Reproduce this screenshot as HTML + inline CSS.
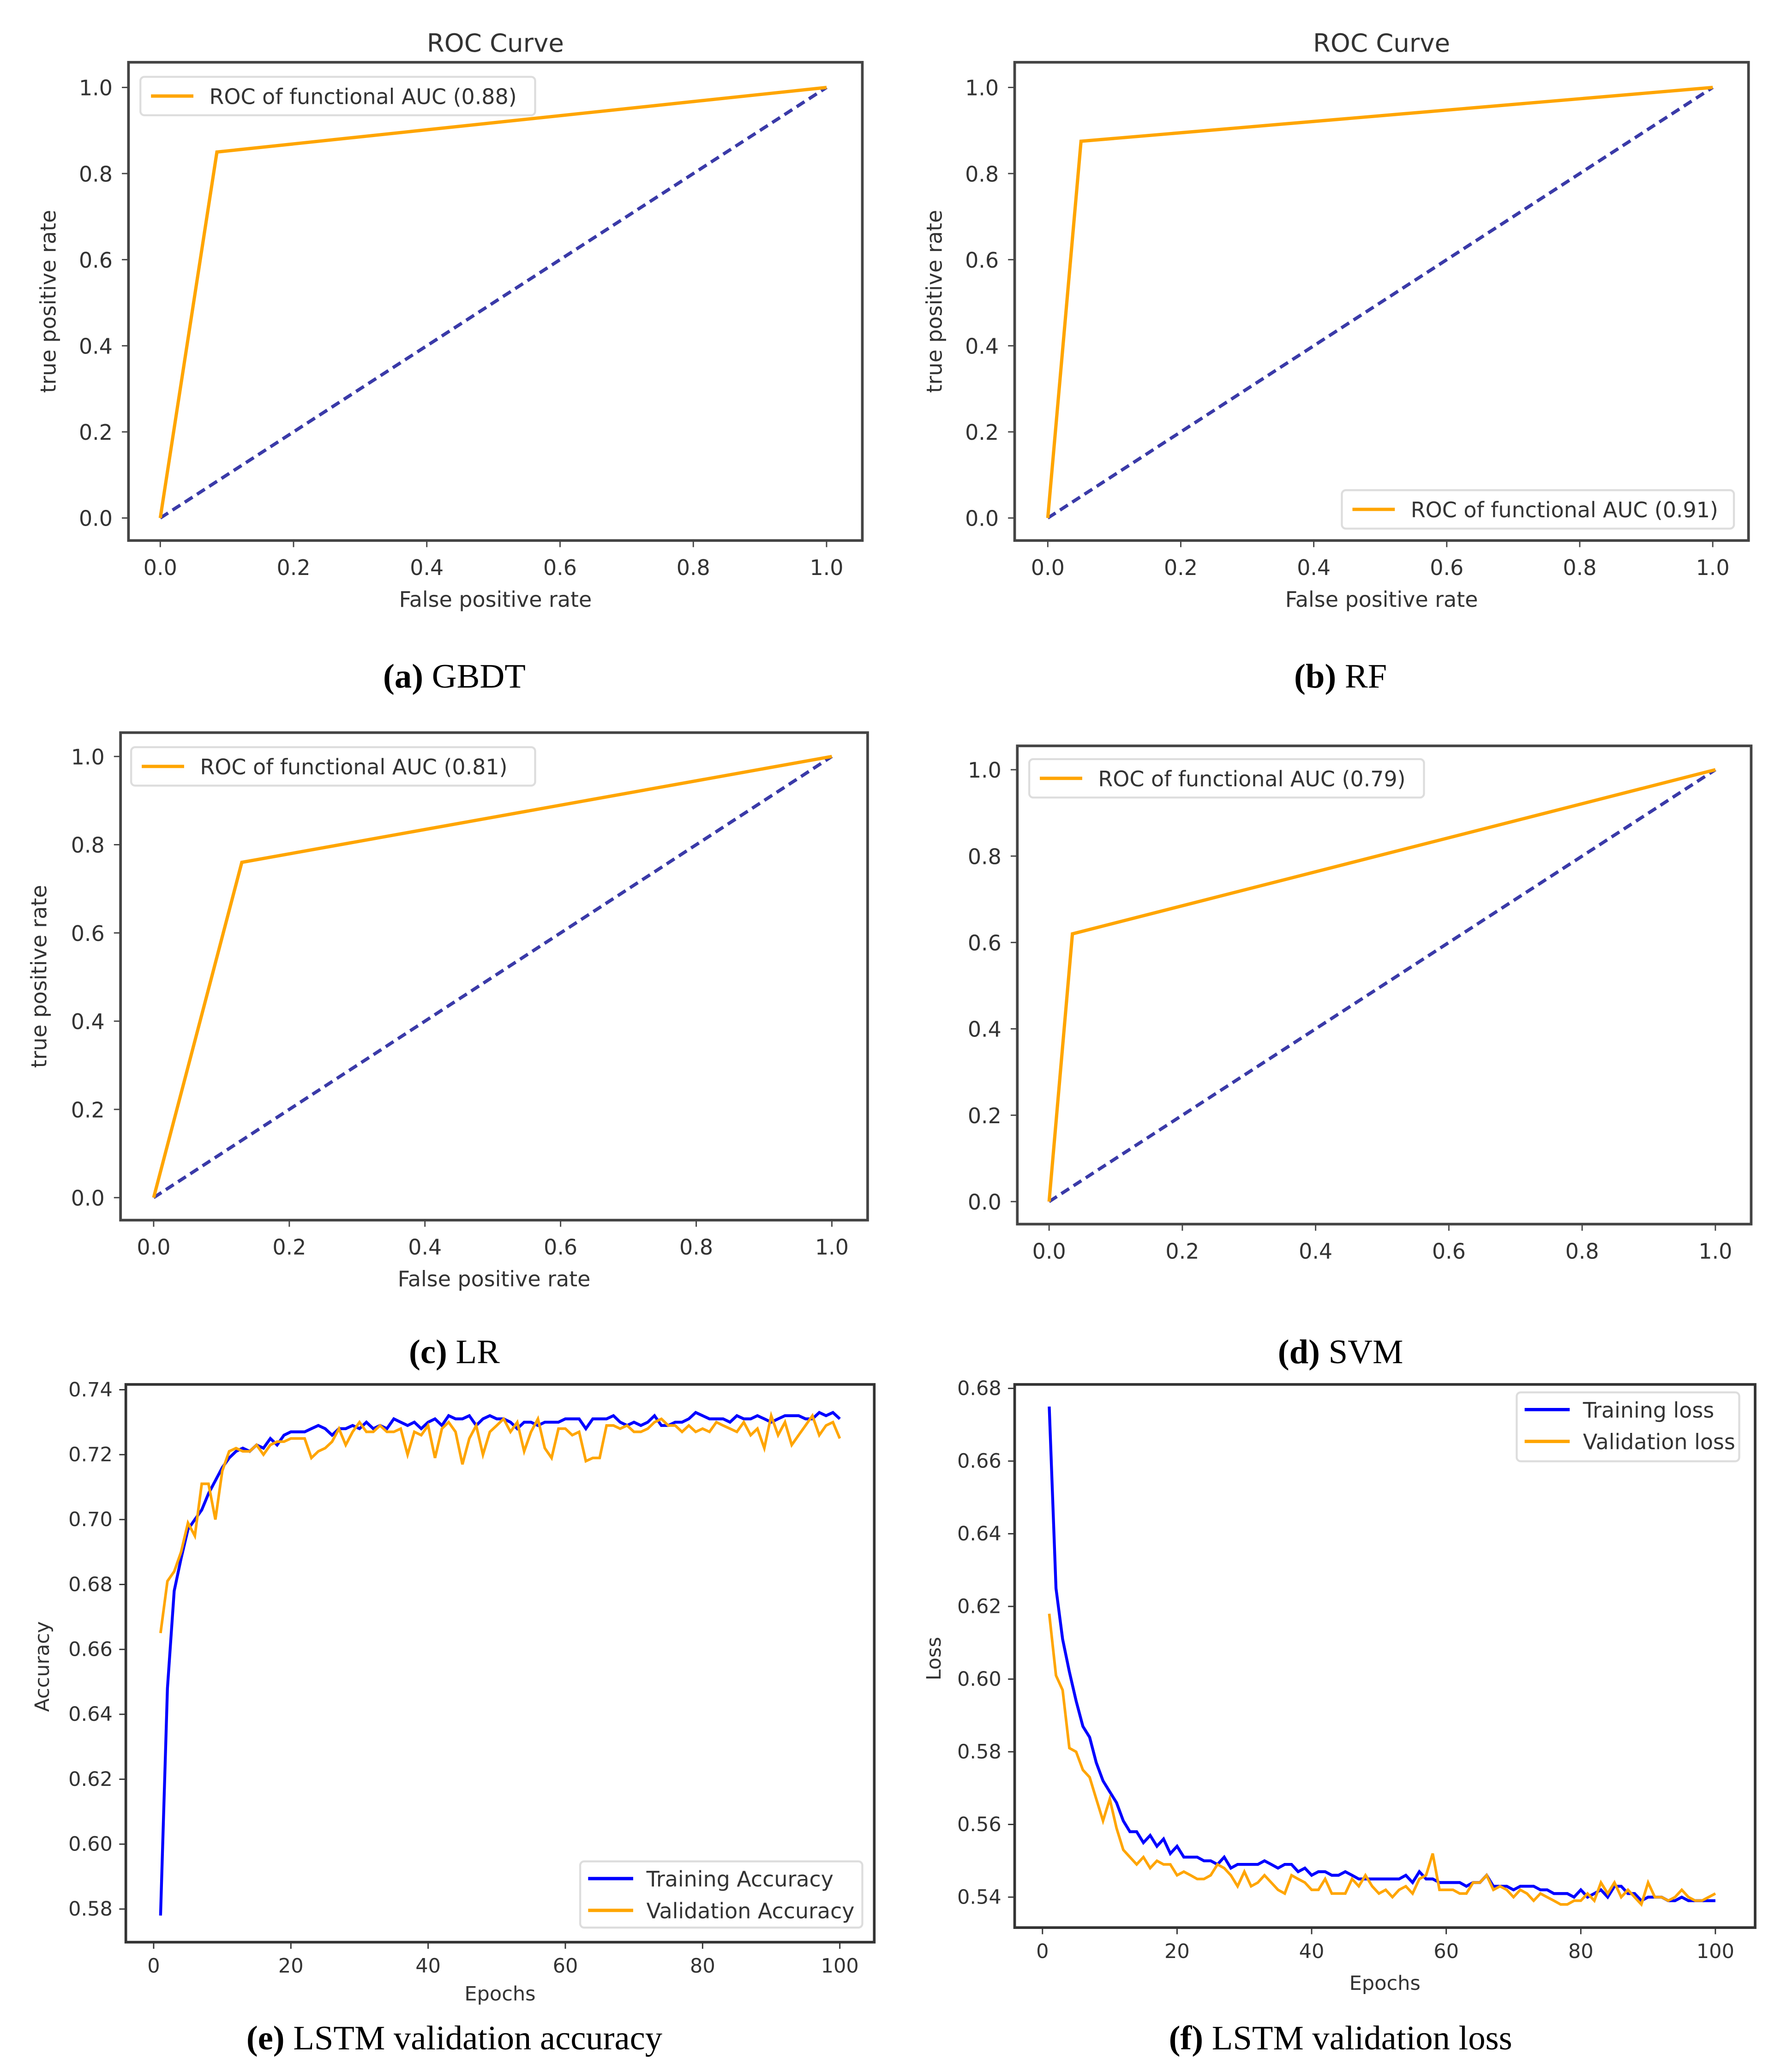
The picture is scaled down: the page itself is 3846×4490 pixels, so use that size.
<!DOCTYPE html>
<html><head><meta charset="utf-8">
<style>
html,body{margin:0;padding:0;background:#fff;}
svg{display:block;}
text{font-family:"DejaVu Sans","Liberation Sans",sans-serif;fill:#333;}
.cap{font-family:"Liberation Serif",serif;fill:#000;font-size:26px;}
</style></head>
<body>
<svg id="fig" xmlns="http://www.w3.org/2000/svg" width="3846" height="4490" viewBox="0 0 1340 1564" preserveAspectRatio="none">
</svg>
<script>
// ---- ROC data ----
const rocNames = ["GBDT","RF","LR","SVM"];
const rocFpr = [0.085, 0.05, 0.13, 0.035];
const rocTpr = [0.85, 0.875, 0.76, 0.62];
const rocAuc = ["0.88","0.91","0.81","0.79"];
const rocTicks = ["0.0","0.2","0.4","0.6","0.8","1.0"];
// ---- LSTM accuracy ----
const epochTicks = [0,20,40,60,80,100];
const accTicks = ["0.58","0.60","0.62","0.64","0.66","0.68","0.70","0.72","0.74"];
const trainAcc = [0.578,0.648,0.678,0.688,0.697,0.700,0.703,0.708,0.712,0.716,0.719,0.721,0.722,0.721,0.723,0.722,0.725,0.723,0.726,0.727,
0.727,0.727,0.728,0.729,0.728,0.726,0.728,0.728,0.729,0.728,0.730,0.728,0.729,0.728,0.731,0.730,0.729,0.730,0.728,0.730,
0.731,0.729,0.732,0.731,0.731,0.732,0.729,0.731,0.732,0.731,0.731,0.730,0.728,0.730,0.730,0.729,0.730,0.730,0.730,0.731,
0.731,0.731,0.728,0.731,0.731,0.731,0.732,0.730,0.729,0.730,0.729,0.730,0.732,0.729,0.729,0.730,0.730,0.731,0.733,0.732,
0.731,0.731,0.731,0.730,0.732,0.731,0.731,0.732,0.731,0.730,0.731,0.732,0.732,0.732,0.731,0.731,0.733,0.732,0.733,0.731];
const valAcc = [0.665,0.681,0.684,0.690,0.699,0.695,0.711,0.711,0.700,0.715,0.721,0.722,0.721,0.721,0.723,0.720,0.723,0.724,0.724,0.725,
0.725,0.725,0.719,0.721,0.722,0.724,0.728,0.723,0.727,0.730,0.727,0.727,0.729,0.727,0.727,0.728,0.720,0.727,0.726,0.729,
0.719,0.728,0.730,0.727,0.717,0.725,0.729,0.720,0.727,0.729,0.731,0.727,0.730,0.721,0.727,0.731,0.722,0.719,0.728,0.728,
0.726,0.727,0.718,0.719,0.719,0.729,0.729,0.728,0.729,0.727,0.727,0.728,0.730,0.731,0.729,0.729,0.727,0.729,0.727,0.728,
0.727,0.730,0.729,0.728,0.727,0.730,0.726,0.728,0.722,0.732,0.726,0.730,0.723,0.726,0.729,0.732,0.726,0.729,0.730,0.725];
// ---- LSTM loss ----
const lossTicks = ["0.54","0.56","0.58","0.60","0.62","0.64","0.66","0.68"];
const trainLoss = [0.675,0.625,0.611,0.602,0.594,0.587,0.584,0.577,0.572,0.569,0.566,0.561,0.558,0.558,0.555,0.557,0.554,0.556,0.552,0.554,
0.551,0.551,0.551,0.550,0.550,0.549,0.551,0.548,0.549,0.549,0.549,0.549,0.550,0.549,0.548,0.549,0.549,0.547,0.548,0.546,
0.547,0.547,0.546,0.546,0.547,0.546,0.545,0.545,0.545,0.545,0.545,0.545,0.545,0.546,0.544,0.547,0.545,0.545,0.544,0.544,
0.544,0.544,0.543,0.544,0.544,0.546,0.543,0.543,0.543,0.542,0.543,0.543,0.543,0.542,0.542,0.541,0.541,0.541,0.540,0.542,
0.540,0.541,0.542,0.540,0.543,0.543,0.541,0.541,0.539,0.540,0.540,0.540,0.539,0.539,0.540,0.539,0.539,0.539,0.539,0.539];
const valLoss = [0.618,0.601,0.597,0.581,0.580,0.575,0.573,0.567,0.561,0.567,0.559,0.553,0.551,0.549,0.551,0.548,0.550,0.549,0.549,0.546,
0.547,0.546,0.545,0.545,0.546,0.549,0.548,0.546,0.543,0.547,0.543,0.544,0.546,0.544,0.542,0.541,0.546,0.545,0.544,0.542,
0.542,0.545,0.541,0.541,0.541,0.545,0.543,0.546,0.543,0.541,0.542,0.540,0.542,0.543,0.541,0.545,0.546,0.552,0.542,0.542,
0.542,0.541,0.541,0.544,0.544,0.546,0.542,0.543,0.542,0.540,0.542,0.541,0.539,0.541,0.540,0.539,0.538,0.538,0.539,0.539,
0.541,0.539,0.544,0.541,0.544,0.540,0.542,0.540,0.538,0.544,0.540,0.540,0.539,0.540,0.542,0.540,0.539,0.539,0.540,0.541];

const NS="http://www.w3.org/2000/svg";
const svg=document.getElementById('fig');
function mk(tag,attrs,parent,txt){const e=document.createElementNS(NS,tag);for(const k in attrs)e.setAttribute(k,attrs[k]);if(txt!==undefined)e.textContent=txt;(parent||svg).appendChild(e);return e;}
function lin(d0,d1,p0,p1){return v=>p0+(v-d0)*(p1-p0)/(d1-d0);}

const rocPanels=[
 {box:[97,47,651,408],x0:121,x1:624,y0:391,y1:66,title:true,xl:true,yl:42,leg:[106,58,404,87],cap:[343,510],tag:"(a)"},
 {box:[766,47,1320,408],x0:791,x1:1293,y0:391,y1:66,title:true,xl:true,yl:711,leg:[1013,370,1309,399],cap:[1012,510],tag:"(b)"},
 {box:[91,553,655,921],x0:116,x1:628,y0:904,y1:571,title:false,xl:true,yl:35,leg:[99,564,404,593],cap:[343,1020],tag:"(c)"},
 {box:[768,563,1322,924],x0:792,x1:1295,y0:907,y1:581,title:false,xl:false,yl:null,leg:[777,573,1075,602],cap:[1012,1020],tag:"(d)"}
];
rocPanels.forEach((p,i)=>{
 const g=mk('g',{});
 
 
 const X=lin(0,1,p.x0,p.x1),Y=lin(0,1,p.y0,p.y1);
 const b=p.box;
 const frame=mk('rect',{x:b[0],y:b[1],width:b[2]-b[0],height:b[3]-b[1],fill:'none',stroke:'#444','stroke-width':2},g);
 
 
 rocTicks.forEach(t=>{
  const v=parseFloat(t);
  mk('line',{x1:X(v),x2:X(v),y1:b[3],y2:b[3]+5,stroke:'#444'},g);
  const tx=mk('text',{x:X(v),y:b[3]+26,'font-size':16,'text-anchor':'middle'},g,t);
  
  
  mk('line',{x1:b[0]-5,x2:b[0],y1:Y(v),y2:Y(v),stroke:'#444'},g);
  const ty=mk('text',{x:b[0]-12,y:Y(v)+6,'font-size':16,'text-anchor':'end'},g,t);
  
  
 });
 const diag=mk('line',{x1:X(0),y1:Y(0),x2:X(1),y2:Y(1),stroke:'#3a3aa8','stroke-width':2.5,'stroke-dasharray':'7,4'},g);
 
 
 const roc=mk('polyline',{points:`${X(0)},${Y(0)} ${X(rocFpr[i])},${Y(rocTpr[i])} ${X(1)},${Y(1)}`,fill:'none',stroke:'#ffa500','stroke-width':2.5},g);
 
 
 if(p.title){const t=mk('text',{x:(b[0]+b[2])/2,y:b[1]-8,'font-size':19,'text-anchor':'middle'},g,'ROC Curve');
  
  }
 if(p.xl){const t=mk('text',{x:(b[0]+b[2])/2,y:b[3]+50,'font-size':16,'text-anchor':'middle'},g,'False positive rate');
  
  }
 if(p.yl!==null){const cy=(b[1]+b[3])/2;const t=mk('text',{x:p.yl,y:cy,'font-size':16,'text-anchor':'middle',transform:`rotate(-90 ${p.yl} ${cy})`},g,'true positive rate');
  
  }
 const l=p.leg;const lg=mk('g',{},g);
 
 
 mk('rect',{x:l[0],y:l[1],width:l[2]-l[0],height:l[3]-l[1],fill:'#fff',stroke:'#ddd','stroke-width':1.5,rx:3},lg);
 const my=(l[1]+l[3])/2;
 mk('line',{x1:l[0]+8,x2:l[0]+40,y1:my,y2:my,stroke:'#ffa500','stroke-width':2.5},lg);
 mk('text',{x:l[0]+52,y:my+6,'font-size':16},lg,`ROC of functional AUC (${rocAuc[i]})`);
 const c=mk('text',{x:p.cap[0],y:p.cap[1]+9,'text-anchor':'middle',class:'cap'},svg);
 c.innerHTML=`<tspan font-weight="bold">${p.tag}</tspan> ${rocNames[i]}`;
 
 
});

function lstm(cfg){
 const g=mk('g',{});
 
 
 const b=cfg.box;
 const X=lin(0,100,cfg.x0,cfg.x1),Y=lin(cfg.v0,cfg.v1,cfg.y0,cfg.y1);
 const frame=mk('rect',{x:b[0],y:b[1],width:b[2]-b[0],height:b[3]-b[1],fill:'none',stroke:'#333','stroke-width':2},g);
 
 
 epochTicks.forEach(v=>{
  mk('line',{x1:X(v),x2:X(v),y1:b[3],y2:b[3]+5,stroke:'#333'},g);
  const t=mk('text',{x:X(v),y:b[3]+23,'font-size':15,'text-anchor':'middle'},g,String(v));
  
  
 });
 cfg.ticks.forEach(s=>{
  const v=parseFloat(s);
  mk('line',{x1:b[0]-5,x2:b[0],y1:Y(v),y2:Y(v),stroke:'#333'},g);
  const t=mk('text',{x:b[0]-10,y:Y(v)+5,'font-size':15,'text-anchor':'end'},g,s);
  
  
 });
 const pts=a=>a.map((v,i)=>`${X(i+1).toFixed(1)},${Y(v).toFixed(1)}`).join(' ');
 const tl=mk('polyline',{points:pts(cfg.train),fill:'none',stroke:'#0000ff','stroke-width':2.2},g);
 
 
 const vl=mk('polyline',{points:pts(cfg.val),fill:'none',stroke:'#ffa500','stroke-width':2},g);
 
 
 const xt=mk('text',{x:(b[0]+b[2])/2,y:cfg.xly,'font-size':15,'text-anchor':'middle'},g,'Epochs');
 
 
 const yt=mk('text',{x:cfg.ylx,y:cfg.yly,'font-size':15,'text-anchor':'middle',transform:`rotate(-90 ${cfg.ylx} ${cfg.yly})`},g,cfg.ylabel);
 
 
 const l=cfg.leg;const lg=mk('g',{},g);
 
 
 mk('rect',{x:l[0],y:l[1],width:l[2]-l[0],height:l[3]-l[1],fill:'#fff',stroke:'#ddd','stroke-width':1.5,rx:3},lg);
 mk('line',{x1:l[0]+6,x2:l[0]+40,y1:l[1]+13,y2:l[1]+13,stroke:'#0000ff','stroke-width':2.5},lg);
 mk('text',{x:l[0]+50,y:l[1]+19,'font-size':16},lg,cfg.leg1);
 mk('line',{x1:l[0]+6,x2:l[0]+40,y1:l[1]+37,y2:l[1]+37,stroke:'#ffa500','stroke-width':2.5},lg);
 mk('text',{x:l[0]+50,y:l[1]+43,'font-size':16},lg,cfg.leg2);
 const c=mk('text',{x:cfg.cap[0],y:cfg.cap[1]+9,'text-anchor':'middle',class:'cap'},svg);
 c.innerHTML=`<tspan font-weight="bold">${cfg.tag}</tspan> ${cfg.capText}`;
 
 
}
lstm({name:'lstm-accuracy-chart',box:[95,1045,660,1466],x0:116,x1:634,v0:0.58,v1:0.74,y0:1441,y1:1049,ticks:accTicks,train:trainAcc,val:valAcc,
 xly:1510,ylx:37,yly:1258,ylabel:'Accuracy',leg:[438,1405,651,1455],leg1:'Training Accuracy',leg2:'Validation Accuracy',cap:[343,1538],tag:'(e)',capText:'LSTM validation accuracy'});
lstm({name:'lstm-loss-chart',box:[766,1045,1325,1455],x0:787,x1:1295,v0:0.54,v1:0.68,y0:1432,y1:1048,ticks:lossTicks,train:trainLoss,val:valLoss,
 xly:1502,ylx:710,yly:1252,ylabel:'Loss',leg:[1145,1051,1313,1103],leg1:'Training loss',leg2:'Validation loss',cap:[1012,1538],tag:'(f)',capText:'LSTM validation loss'});
</script>
</body></html>
